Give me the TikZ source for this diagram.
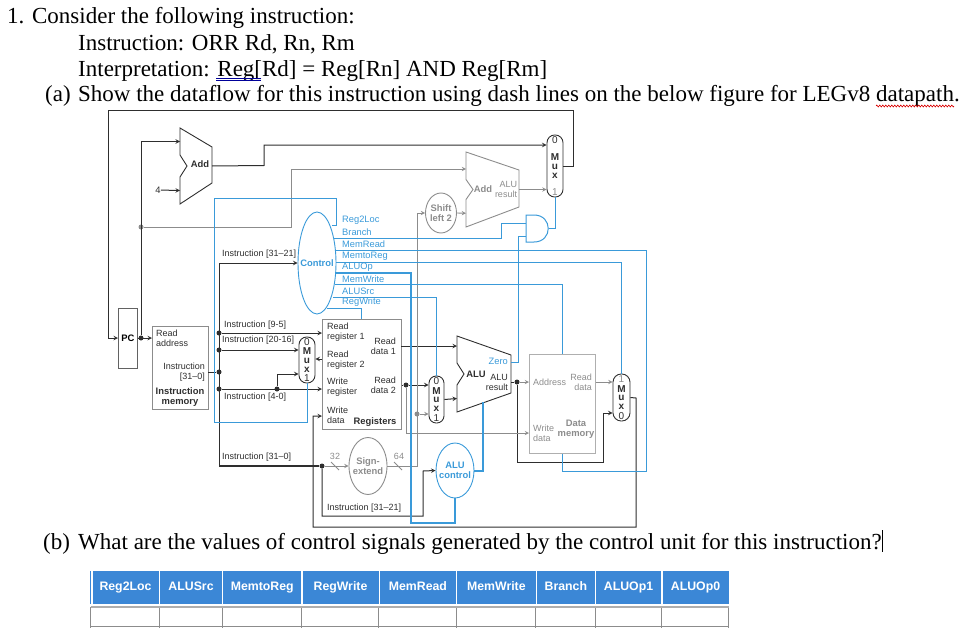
\documentclass[tikz,border=0pt]{standalone}
\usepackage{fontspec}
\setmainfont{Liberation Serif}
\setsansfont{Liberation Sans}
\usetikzlibrary{decorations.pathmorphing,shapes.geometric}
\definecolor{dpblue}{HTML}{3A9AD9}
\definecolor{dpgrey}{HTML}{8C8C8C}
\definecolor{dpblack}{HTML}{2E2E2E}
\definecolor{headblue}{HTML}{3B87D6}
\tikzset{
  blk/.style={draw=dpblack,line width=1pt},
  gry/.style={draw=dpgrey,line width=.9pt},
  blu/.style={draw=dpblue,line width=1pt},
  lbl/.style={font=\sffamily\fontsize{9}{10}\selectfont,inner sep=0pt,text=dpblack},
  blbl/.style={lbl,text=dpblue,font=\sffamily\fontsize{9.3}{10}\selectfont},
  glbl/.style={lbl,text=dpgrey},
  bold/.style={font=\sffamily\bfseries\fontsize{9.4}{10}\selectfont},
  para/.style={font=\fontsize{23}{26}\selectfont,inner sep=0pt,anchor=base west,text=black},
  dot/.style={circle,fill=#1,inner sep=0pt,minimum size=5pt},
  dot/.default=dpblack,
  boxnode/.style={draw=#1,line width=.9pt,inner sep=0pt,anchor=north west},
  ovalnode/.style={ellipse,draw=#1,line width=.9pt,inner sep=0pt},
  headcell/.style={fill=headblue,text=white,inner sep=0pt,text height=9pt,text depth=2.5pt,font=\sffamily\bfseries\fontsize{12.3}{13}\selectfont},
}
% mux: name, x, y, w, h, top, bottom
\newcommand{\drawmux}[7]{
  \node (#1) [draw=dpblack,line width=.9pt,minimum width=#4pt,minimum height=#5pt,inner sep=0pt,rounded corners=#4*.48pt] at (#2,#3) {};
  \node (#1-l) [lbl,align=center,font=\sffamily\bfseries\fontsize{10}{8.6}\selectfont] at (#1.center) {M\\u\\x};
  \node (#1-t) [lbl,font=\sffamily\fontsize{10}{10}\selectfont,below=1.5pt] at (#1.north) {#6};
  \node (#1-b) [lbl,font=\sffamily\fontsize{10}{10}\selectfont,above=1.5pt] at (#1.south) {#7};
}
% adder or alu: name, colour, x left, x right, y top left, y top right, y bottom right, y bottom left, half notch
\newcommand{\drawadder}[9]{
  \pgfmathsetmacro{\yc}{(#5+#8)/2}
  \draw[draw=#2,line width=.9pt] (#3,#5) -- (#4,#6) -- (#4,#7) -- (#3,#8) -- (#3,\yc+#9) -- (#3+7,\yc) -- (#3,\yc-#9) -- cycle;
  \coordinate (#1-in1) at (#3,{(#5+\yc-#9)/2});
  \coordinate (#1-in2) at (#3,{(#8+\yc+#9)/2});
  \coordinate (#1-out) at (#4,\yc);
}
\begin{document}
\begin{tikzpicture}[x=1pt,y=-1pt,>=stealth]
\useasboundingbox (0,0) rectangle (975,642);

\node (line1) [para] at (7,24) {1. Consider the following instruction:};
\node (line2) [para] at (78,51) {Instruction: ORR Rd, Rn, Rm};
\node (line3) [para] at (78,77) {Interpretation: Reg[Rd] = Reg[Rn] AND Reg[Rm]};
\node (line4a) [para] at (45,102) {(a)};
\node (line4) [para] at (78,102) {Show the dataflow for this instruction using dash lines on the below figure for LEGv8 datapath.};
\node (line5a) [para] at (43,549) {(b)};
\node (line5) [para] at (78,549) {What are the values of control signals generated by the control unit for this instruction?};
\coordinate (cursor) at (882,530);
\draw[black,line width=.8pt] (cursor) -- (882,552);
\draw[blue!60!black,line width=.6pt] (216,78.5) -- (261,78.5) (216,80.5) -- (261,80.5);
\draw[red!85!black,line width=.6pt,decorate,decoration={zigzag,segment length=3pt,amplitude=1pt}] (876,106) -- (954,106);

% blocks
\node (pc) [boxnode=dpgrey!70!black,anchor=west,minimum width=19pt,minimum height=60pt,font=\sffamily\bfseries\fontsize{9.4}{10}\selectfont] at (118,338) {PC};
\node (imem) [boxnode=dpgrey,minimum width=56pt,minimum height=83pt] at (152,326) {};
\node (regs) [boxnode=dpgrey,minimum width=79pt,minimum height=110pt] at (322,319) {};
\node (dmem) [boxnode=dpgrey!70,minimum width=66pt,minimum height=99pt] at (529,354) {};
\node (control) [ovalnode=dpblue,minimum width=38pt,minimum height=102pt] at (317,263) {};
\node (aluctl) [ovalnode=dpblue,minimum width=38pt,minimum height=55pt] at (455,470.5) {};
\node (shift) [ovalnode=dpgrey,minimum width=31pt,minimum height=40pt] at (441,213) {};
\node (sign) [ovalnode=dpgrey,minimum width=38pt,minimum height=57pt] at (368,466) {};
\node (control-l) [lbl,bold,text=dpblue] at (control.center) {Control};
\node (aluctl-l) [lbl,bold,text=dpblue,align=center] at (aluctl.center) {ALU\\control};
\node (shift-l) [lbl,bold,text=dpgrey,align=center] at (shift.center) {Shift\\left 2};
\node (sign-l) [lbl,bold,text=dpgrey,align=center] at (sign.center) {Sign-\\extend};

\drawmux{muxpc}{555}{166}{16}{62}{0}{\textcolor{dpgrey}{1}}
\drawmux{muxreg}{307}{360}{16}{46}{0}{1}
\drawmux{muxalu}{436.5}{399.5}{15}{47}{0}{1}
\drawmux{muxmem}{621.5}{397.5}{17}{47}{\textcolor{dpgrey}{1}}{0}

\drawadder{add1}{dpblack}{180}{212}{128}{147}{183}{204}{11}
\drawadder{add2}{dpgrey}{466}{519}{152}{170}{207}{227}{10}
\drawadder{alu}{dpblack}{457}{511}{336}{355}{393}{412}{11}

% and gate
\draw[blu] (526,215) -- (534,215) .. controls (553,215) and (553,242) .. (534,242) -- (526,242) -- cycle;
\coordinate (and-in1) at (526,223);
\coordinate (and-in2) at (526,236);
\coordinate (and-out) at (549,228.5);

% dots
\node (jpc) [dot] at (141,338) {};
\node (jadd) [dot=dpgrey] at (141,227) {};
\node (jim) [dot] at (219,372) {};
\node (j95) [dot] at (219,333) {};
\node (j2016) [dot] at (219,350) {};
\node (j40) [dot] at (219,389) {};
\node (j40b) [dot] at (277,389) {};
\node (jext) [dot] at (322,466) {};
\node (jrd2) [dot] at (406,385) {};
\node (jshift) [dot=dpgrey] at (417,414) {};
\node (jalu) [dot] at (517,382) {};

\coordinate (imout) at (208,372);
\coordinate (insttop) at (219,263);
\coordinate (instbot) at (219,466);
\coordinate (pcsel) at (264,145);
\coordinate (pcbr) at (291,169);
\coordinate (mux40) at (277,374);
\coordinate (rd1) at (401,346);
\coordinate (wdturn) at (406,433);
\coordinate (alures) at (511,382);
\coordinate (wbturn) at (603,413);
\coordinate (wdata) at (313,416);
\coordinate (signturn) at (417,466);
\coordinate (aluzero) at (511,362);
\coordinate (aluopin) at (483,402);
\coordinate (regmux) at (322,359);

% black wires
\draw[blk,->] (muxpc.east) -- (573,166) -- (573,110) -- (108,110) -- (108,338) -- (pc.west);
\draw[blk,->] (pc.east) -- (pc.east -| imem.west);
\draw[blk,->] (jpc) |- (add1-in1);
\node (four) [lbl,font=\sffamily\fontsize{9.4}{10}\selectfont] at (158,190) {4};
\draw[blk,->] (four) -- (add1-in2);
\draw[blk,->] (add1-out) -- (264,165.5) -- (pcsel) -- (pcsel -| muxpc.west);
\draw[blk] (imout) -- (jim);
\draw[blk,->] (insttop) -- (control.west);
\draw[blk] (insttop) -- (instbot);
\draw[blk,line width=1.4pt] (instbot) -- (jext);
\draw[blk,->] (j95) -- (j95 -| regs.west);
\draw[blk,->] (j2016) -- (j2016 -| muxreg.west);
\draw[blk,->] (j40) -- (j40 -| regs.west);
\draw[blk,->] (j40b) -- (mux40) -- (mux40 -| muxreg.west);
\draw[blk,->] (regmux) -- (regmux -| muxreg.east);
\draw[blk,->] (jext) -- (322,516) -- (423,516) -- (423,471) -- (aluctl.west);
\draw[blk,->] (rd1) -- (rd1 -| alu-in1);
\draw[blk] (jrd2 -| regs.east) -- (jrd2);
\draw[blk,->] (jrd2) -- (jrd2 -| muxalu.west);
\draw[blk,->] (muxalu.east) -- (alu-in2);
\draw[blk] (alures) -- (jalu);
\draw[blk,->] (jalu) -- (517,462) -- (603,462) -- (wbturn) -- (wbturn -| muxmem.west);
\draw[blk,->] (muxmem.east) -- (636,398) -- (636,527) -- (313,527) -- (wdata) -- (wdata -| regs.west);

% grey wires
\draw[gry,->] (jadd) -- (291,227) -- (pcbr) -- (pcbr -| add2-in1);
\draw[gry,->] (add2-out) -- (add2-out -| muxpc.west);
\draw[gry,->] (shift.east) -- (add2-in2);
\draw[gry,->] (sign.east) -- (signturn) |- (shift.west);
\draw[gry,->] (jext) -- (sign.west);
\draw[gry,->] (jshift) -- (jshift -| muxalu.west);
\draw[gry,->] (jrd2) -- (wdturn) -- (wdturn -| dmem.west);
\draw[gry,->] (jalu) -- (jalu -| dmem.west);
\draw[gry,->] (jalu -| dmem.east) -- (jalu -| muxmem.west);
\draw[gry] (331,462) -- (339,470);
\draw[gry] (394,462) -- (402,470);

% control lines
\foreach \nm/\xx/\yy in {reg2loc/332/225,branch/334/238,memread/335/250,memtoreg/336/262,aluop/336/273,memwrite/335/284,alusrc/333/297,regwrite/327/308} {
  \coordinate (c\nm) at (\xx,\yy);
}
\draw[blu] (creg2loc) -- (336,225) -- (336,198) -- (214,198) -- (214,422) -| (muxreg.south);
\draw[blu] (cbranch) -- (501,238) -- (501,223) -- (and-in1);
\draw[blu] (aluzero) -- (518,362) |- (and-in2);
\draw[blu] (and-out) -| (muxpc.south);
\draw[blu] (cmemread) -- (646,250) -- (646,471) -| (dmem.south);
\draw[blu] (cmemtoreg) -| (muxmem.north);
\draw[blu,line width=2pt] (caluop) -- (411,273) -- (411,523) -| (aluctl.south);
\draw[blu] (cmemwrite) -| (dmem.north);
\draw[blu] (calusrc) -| (muxalu.north);
\draw[blu] (cregwrite) -| (regs.north);
\draw[blu,line width=2pt] (aluctl.east) -| (aluopin);

% text of blocks
\node (addlbl) [lbl,bold] at (200,164.5) {Add};
\node (add2lbl) [glbl,bold] at (483,189) {Add};
\node (add2res) [glbl,align=right] at (506,189) {ALU\\result};
\node (alulbl) [lbl,bold] at (476,374) {ALU};
\node (alures-l) [lbl,align=right,anchor=east] at (508,382) {ALU\\result};
\node (zero) [blbl,anchor=east] at (508,361) {Zero};

\node (t-ra) [lbl,align=left,anchor=west] at (156,338) {Read\\address};
\node (t-ins) [lbl,align=right,anchor=east] at (205,372) {Instruction\\{[31--0]}};
\node (t-imem) [lbl,bold,align=center] at (180,397) {Instruction\\memory};

\node (t-rr1) [lbl,align=left,anchor=west] at (327,332.5) {Read\\register 1};
\node (t-rr2) [lbl,align=left,anchor=west] at (327,360) {Read\\register 2};
\node (t-wr) [lbl,align=left,anchor=west] at (327,387.5) {Write\\register};
\node (t-wd) [lbl,align=left,anchor=west] at (327,415) {Write\\data};
\node (t-rd1) [lbl,align=right,anchor=east] at (396,346) {Read\\data 1};
\node (t-rd2) [lbl,align=right,anchor=east] at (396,385) {Read\\data 2};
\node (t-regs) [lbl,bold] at (375,422) {Registers};

\node (t-addr) [glbl,anchor=west] at (533,382) {Address};
\node (t-rdm) [glbl,align=right,anchor=east] at (592,382) {Read\\data};
\node (t-wdm) [glbl,align=left,anchor=west] at (533,433) {Write\\data};
\node (t-dm) [glbl,bold,align=center] at (576,429) {Data\\memory};

\node (i3121) [lbl,anchor=west] at (222,254) {Instruction [31--21]};
\node (i95) [lbl,anchor=west] at (224,325) {Instruction [9-5]};
\node (i2016) [lbl,anchor=west] at (222,340) {Instruction [20-16]};
\node (i40) [lbl,anchor=west] at (224,397) {Instruction [4-0]};
\node (i310) [lbl,anchor=west] at (222,457) {Instruction [31--0]};
\node (i3121b) [lbl,anchor=west] at (327,508) {Instruction [31--21]};
\node (n32) [glbl] at (335,456) {32};
\node (n64) [glbl] at (399,456) {64};

\foreach \nm/\lab/\yy in {a/Reg2Loc/220,b/Branch/232,c/MemRead/244,d/MemtoReg/256,e/ALUOp/267,f/MemWrite/279,g/ALUSrc/291,h/RegWrite/302} {
  \node (sig\nm) [blbl,anchor=west] at (342,\yy) {\lab};
}

% table
\draw[headblue,line width=.8pt] (90.5,571) -- (90.5,604);
\foreach \i/\lab/\xa/\xb/\xl in {1/Reg2Loc/92.3/158.3/90.5,2/ALUSrc/160/221.7/159.3,3/MemtoReg/223/301/222,4/RegWrite/302.3/378.3/301.5,5/MemRead/379.7/455.7/378.3,6/MemWrite/456.7/535.7/456,7/Branch/537/594.3/535.5,8/ALUOp1/595.7/661/595,9/ALUOp0/662.3/728.3/661.7} {
  \pgfmathsetmacro{\cw}{\xb-\xa}
  \node (head\i) [headcell,anchor=north west,minimum width=\cw pt,minimum height=33pt] at (\xa,571) {\lab};
  \draw[dpgrey,line width=.8pt] (\xl,607) -- (\xl,628);
}
\draw[dpgrey,line width=.8pt] (728.7,607) -- (728.7,628);
\draw[dpgrey!70,line width=1.6pt] (90.5,607) -- (728.7,607);
\draw[dpgrey,line width=.8pt] (90.5,626) -- (728.7,626);
\end{tikzpicture}
\end{document}
